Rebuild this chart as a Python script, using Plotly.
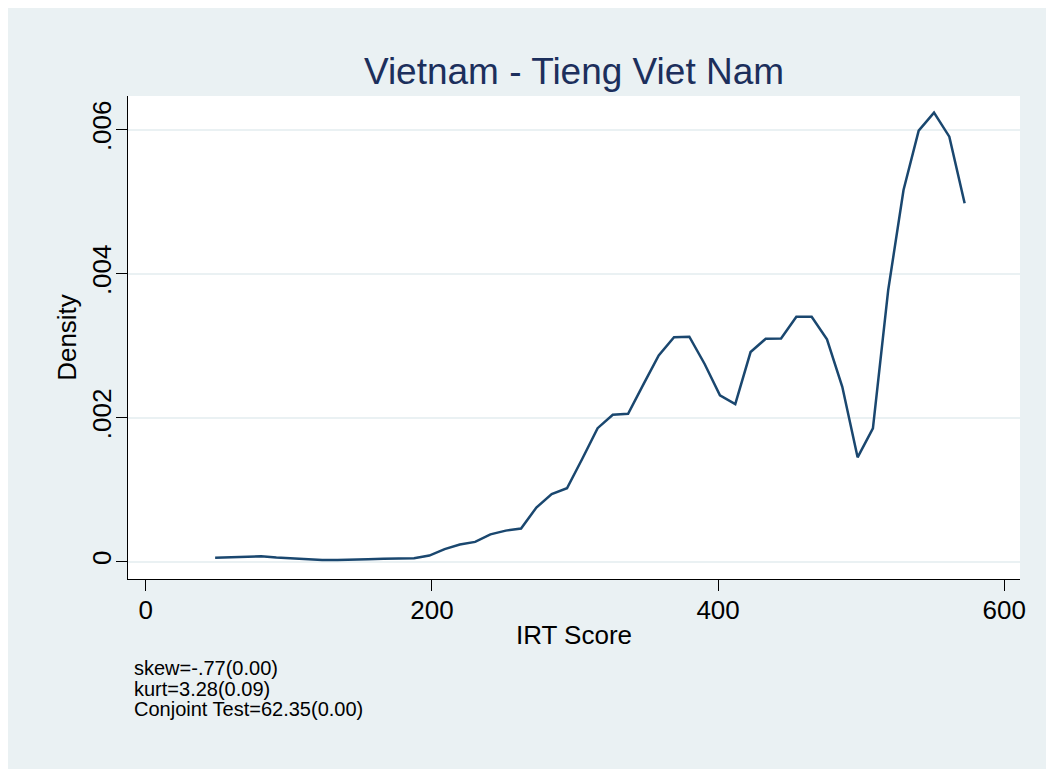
import plotly.graph_objects as go

# IRT score grid (kdensity evaluation points)
irt_score = [48.5, 59.2, 69.9, 80.6, 91.3, 102.0, 112.6, 123.3, 134.0, 144.7,
             155.4, 166.1, 176.8, 187.5, 198.2, 208.9, 219.5, 230.2, 240.9, 251.6,
             262.3, 273.0, 283.7, 294.4, 305.1, 315.8, 326.4, 337.1, 347.8, 358.5,
             369.2, 379.9, 390.6, 401.3, 412.0, 422.7, 433.3, 444.0, 454.7, 465.4,
             476.1, 486.8, 497.5, 508.2, 518.9, 529.6, 540.2, 550.9, 561.6, 572.3]

density = [0.000056, 0.000065, 0.000075, 0.000075, 0.000058, 0.000045, 0.000030, 0.000024, 0.000024, 0.000024,
           0.000033, 0.000042, 0.000048, 0.000048, 0.000085, 0.000175, 0.000238, 0.000275, 0.000380, 0.000432,
           0.000460, 0.000752, 0.000940, 0.001020, 0.001430, 0.001855, 0.002042, 0.002055, 0.002463, 0.002866,
           0.003117, 0.003125, 0.002746, 0.002311, 0.002190, 0.002912, 0.003097, 0.003100, 0.003403, 0.003403,
           0.003089, 0.002430, 0.001450, 0.001852, 0.003774, 0.005163, 0.005986, 0.006236, 0.005903, 0.004978]

x_tick_vals = [0, 200, 400, 600]
x_tick_text = ["0", "200", "400", "600"]
y_tick_vals = [0, 0.002, 0.004, 0.006]
y_tick_text = ["0", ".002", ".004", ".006"]

title_text = "Vietnam - Tieng Viet Nam"
x_title = "IRT Score"
y_title = "Density"
notes = ["skew=-.77(0.00)", "kurt=3.28(0.09)", "Conjoint Test=62.35(0.00)"]

BG = "#EAF1F3"
GRID = "#EAF1F3"
LINE = "#1a476f"
FONT = "Liberation Sans, Arial, sans-serif"

# page has an 8px body margin; figure coordinates = page coordinates - 8
OFF = 8
W, H = 1054 - OFF, 769 - OFF
L, R, T, B = 128 - OFF, 1054 - 1020, 96 - OFF, 769 - 579
PW, PH = W - L - R, H - T - B


def px_x(px):
    return (px - OFF - L) / PW


def px_y(py):
    return (H - B - (py - OFF)) / PH


fig = go.Figure()
fig.add_trace(go.Scatter(x=irt_score, y=density, mode="lines",
                         line=dict(color=LINE, width=2.5), showlegend=False,
                         hoverinfo="skip"))

annotations = []
note_y = [668, 689, 709]
for txt, yy in zip(notes, note_y):
    annotations.append(dict(text=txt, xref="paper", yref="paper", x=px_x(132), y=px_y(yy),
                            xanchor="left", yanchor="middle", showarrow=False,
                            font=dict(family=FONT, size=20, color="black")))

fig.update_layout(
    width=W, height=H,
    margin=dict(l=L, r=R, t=T, b=B, pad=0),
    paper_bgcolor=BG, plot_bgcolor="white",
    font=dict(family=FONT, color="black"),
    title=dict(text=title_text, x=px_x(574), xref="paper", xanchor="center",
               y=1 - (71 - OFF) / H, yref="container", yanchor="middle",
               font=dict(family=FONT, size=37, color="#1c2f5c")),
    xaxis=dict(range=[-12.4, 611], tickvals=x_tick_vals, ticktext=x_tick_text,
               showgrid=False, zeroline=False, showline=True, linecolor="black", linewidth=1,
               ticks="outside", ticklen=11, tickcolor="black", tickwidth=1,
               ticklabelstandoff=-3,
               tickfont=dict(family=FONT, size=26, color="black"),
               title=dict(text=x_title, font=dict(family=FONT, size=26, color="black"), standoff=1)),
    yaxis=dict(range=[-0.00024, 0.006468], tickvals=y_tick_vals, ticktext=y_tick_text,
               showgrid=True, gridcolor=GRID, gridwidth=2, zeroline=False,
               showline=True, linecolor="black", linewidth=1,
               ticks="outside", ticklen=11, tickcolor="black", tickwidth=1, tickangle=-90,
               ticklabelstandoff=-5,
               tickfont=dict(family=FONT, size=26, color="black"),
               title=dict(text=y_title, font=dict(family=FONT, size=26, color="black"), standoff=2)),
    annotations=annotations,
)

fig.write_html("out.html")
